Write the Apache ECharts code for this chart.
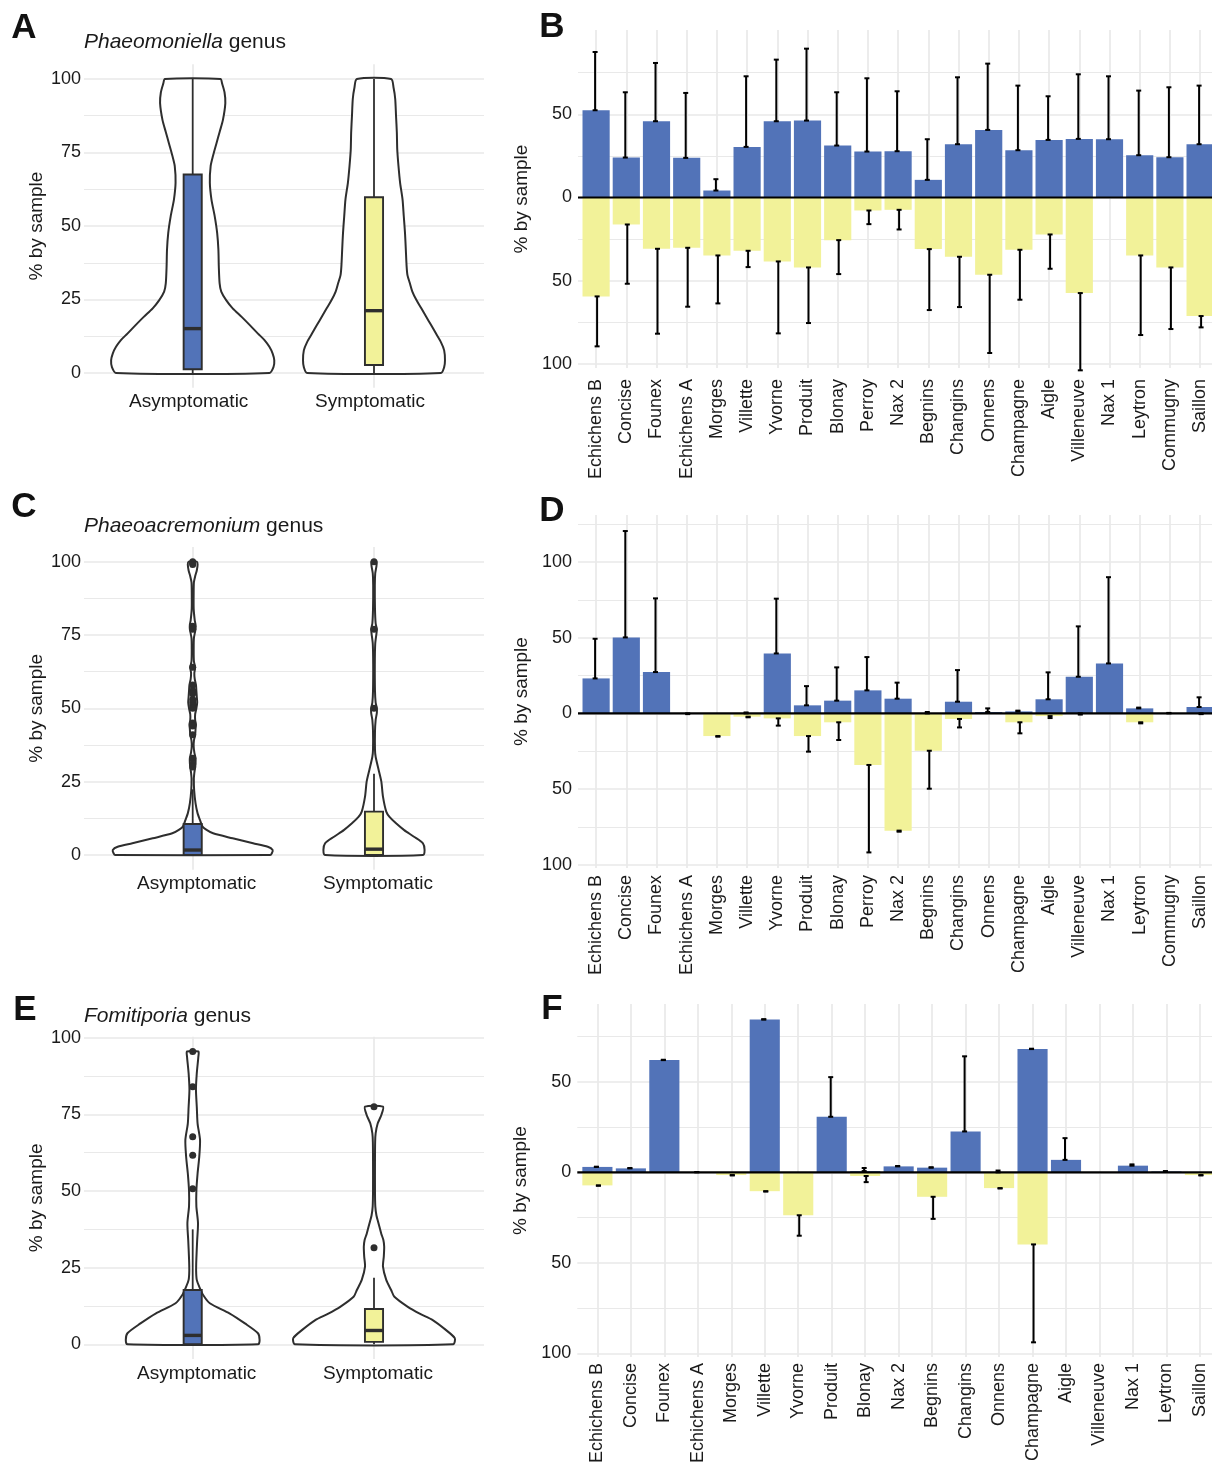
<!DOCTYPE html>
<html><head><meta charset="utf-8">
<script src="https://cdn.jsdelivr.net/npm/echarts@6/dist/echarts.min.js"></script>
<style>html,body{margin:0;padding:0;background:#fff}#c{width:1212px;height:1469px}</style>
</head><body><div id="c"></div><script>
// ---------------- DATA ----------------
const groups = ['Asymptomatic', 'Symptomatic'];
const sitesBD = ['Echichens B','Concise','Founex','Echichens A','Morges','Villette','Yvorne','Produit','Blonay','Perroy','Nax 2','Begnins','Changins','Onnens','Champagne','Aigle','Villeneuve','Nax 1','Leytron','Commugny','Saillon'];
const sitesF = ['Echichens B','Concise','Founex','Echichens A','Morges','Villette','Yvorne','Produit','Blonay','Nax 2','Begnins','Changins','Onnens','Champagne','Aigle','Villeneuve','Nax 1','Leytron','Saillon'];

const violinTicks = [0, 25, 50, 75, 100];
const violinMinor = [12.5, 37.5, 62.5, 87.5];
const barTicksB = [-100, -50, 0, 50];
const barMinorB = [-75, -25, 25, 75];
const barTicksD = [-100, -50, 0, 50, 100];
const barMinorD = [-75, -25, 25, 75, 125];
const barTicksF = [-100, -50, 0, 50];
const barMinorF = [-75, -25, 25, 75];

// Violin outlines: [value, relative half-width]
const violinA_asym = [[0,0.94],[2,0.99],[4.3,1.0],[6.6,0.98],[8.9,0.94],[11.2,0.88],[13.4,0.80],[16.3,0.70],[19.1,0.60],[22,0.49],[24.8,0.41],[27.7,0.35],[30.5,0.33],[36.2,0.32],[41.9,0.315],[47.6,0.30],[53.3,0.27],[59,0.23],[64.7,0.21],[70.4,0.22],[74,0.25],[78,0.29],[82,0.33],[86,0.37],[91.8,0.40],[95.5,0.39],[98.5,0.36],[100,0.34]];
const violinA_sym = [[0,0.82],[2,0.86],[4.3,0.87],[7.7,0.86],[10.5,0.82],[13.4,0.76],[16.3,0.70],[19.1,0.64],[22,0.58],[24.8,0.52],[27.7,0.47],[30.5,0.44],[33.3,0.41],[36.2,0.40],[42,0.39],[47.6,0.38],[53.3,0.365],[59,0.35],[64.7,0.32],[70.4,0.30],[76,0.285],[81.8,0.28],[87.5,0.27],[93.2,0.26],[97,0.24],[100,0.21]];
const violinC_asym = [[0,0.95],[0.6,0.97],[1.7,0.98],[2.8,0.92],[4.0,0.74],[5.7,0.49],[7.4,0.25],[8.6,0.17],[9.7,0.12],[11.9,0.09],[14.2,0.06],[17.6,0.035],[22,0.018],[26,0.014],[28,0.02],[30,0.03],[31.5,0.035],[33,0.035],[35,0.02],[37,0.012],[39,0.015],[41,0.03],[43,0.035],[44.5,0.04],[46,0.03],[48,0.03],[50,0.045],[52,0.055],[54,0.05],[56,0.045],[58,0.04],[60,0.025],[62,0.02],[64,0.03],[66,0.015],[70,0.012],[74,0.015],[77,0.035],[78.5,0.035],[80,0.025],[84,0.012],[90,0.012],[93,0.015],[95,0.03],[97,0.05],[99,0.06],[100,0.05]];
const violinC_sym = [[0,0.6],[1.7,0.62],[4,0.6],[6.25,0.49],[8.5,0.37],[10.8,0.27],[13,0.19],[14.8,0.15],[19.9,0.11],[25,0.09],[29,0.057],[33.5,0.02],[36,0.012],[42,0.012],[46,0.02],[48.5,0.035],[50,0.035],[52,0.02],[56,0.012],[65,0.01],[72,0.015],[75.5,0.03],[77,0.035],[79,0.02],[84,0.012],[92,0.01],[96,0.015],[98.5,0.03],[100,0.03]];
const violinE_asym = [[0,0.80],[1.4,0.82],[3.6,0.80],[6.8,0.64],[10.1,0.45],[13.4,0.21],[16,0.13],[18.5,0.085],[21,0.05],[24,0.042],[28,0.045],[34,0.055],[39.5,0.065],[45,0.045],[50,0.045],[55.8,0.06],[61,0.08],[66.6,0.09],[72,0.06],[77.5,0.05],[83,0.04],[88.4,0.05],[94,0.07],[95.5,0.07]];
const violinE_sym = [[0,0.97],[2,0.99],[4.7,0.88],[7.9,0.72],[10,0.56],[12.3,0.41],[15.5,0.25],[17.7,0.21],[21,0.15],[25.3,0.11],[28.6,0.12],[31.8,0.125],[34,0.115],[36,0.09],[38,0.07],[40,0.05],[42,0.03],[45,0.016],[50,0.012],[60,0.012],[66,0.014],[68.8,0.02],[72,0.045],[74.8,0.09],[77.5,0.11]];

// Boxplots: [lower whisker, Q1, median, Q3, upper whisker]
const boxA = [[0, 1.3, 15.1, 67.5, 100], [0, 2.7, 21.2, 59.8, 100]];
const boxC = [[0, 0, 1.7, 10.6, 22.4], [0, 0, 2.0, 14.8, 27.7]];
const boxE = [[0, 0, 2.9, 17.7, 37.5], [0, 0.8, 4.5, 11.5, 21.7]];

// Outliers
const outC_asym = [100, 99.5, 99, 78, 77, 64, 58, 56, 55, 53, 52, 51, 50, 45, 44, 41, 33, 31, 30];
const outC_sym = [100, 77, 50];
const outE_asym = [95.5, 84, 67.7, 61.7, 50.7];
const outE_sym = [77.5, 31.5];

// Bars: mean and sd per site (% by sample)
const phaeomAsymMean = [52.4,24.0,45.8,23.8,4.2,30.4,45.8,46.2,31.2,27.6,27.8,10.6,32.0,40.6,28.4,34.6,35.2,35.0,25.4,24.2,32.0];
const phaeomAsymSd   = [35.0,39.2,35.0,39.0,6.8,42.4,37.0,43.2,32.0,44.0,36.0,24.4,40.2,39.8,38.8,26.2,38.8,37.8,38.8,42.0,35.2];
const phaeomSymMean  = [59.4,16.2,30.8,30.2,34.8,32.0,38.4,42.0,25.6,7.8,7.4,31.0,35.6,46.4,31.4,22.2,57.4,0,34.8,42.0,71.2];
const phaeomSymSd    = [30.0,35.6,51.0,35.4,28.8,9.8,43.2,33.4,20.4,8.2,11.8,36.6,30.2,47.0,30.0,20.6,46.4,0,47.8,37.0,6.8];

const phaeoaAsymMean = [23.1,50.2,27.3,0,0,0,39.6,5.3,8.4,15.2,9.7,0,7.7,0.9,1.3,9.3,24.2,33.0,3.3,0,4.2];
const phaeoaAsymSd   = [26.2,70.3,48.7,0,0,0.6,36.2,12.7,22.0,22.0,10.6,0.9,20.9,2.4,0.5,17.8,33.3,57.0,0.5,0.3,6.4];
const phaeoaSymMean  = [0,0,0,0,15.0,2.2,3.3,15.0,5.9,34.1,77.5,24.7,3.7,0,5.9,1.8,0,0,5.9,0,0];
const phaeoaSymSd    = [0,0,0,0.5,0.4,0.4,4.8,10.3,11.7,57.8,0.7,25.1,5.6,0,7.3,1.3,0.8,0,0.7,0,0.5];

const fomitAsymMean = [3.0,2.2,62.0,0,0,84.4,0,30.7,0.7,3.3,2.6,22.6,0,68.1,6.9,0,3.7,0.5,0];
const fomitAsymSd   = [0.1,0.2,0.2,0.2,0,0.2,0,21.9,1.7,0.2,0.2,41.5,1.0,0.2,12.0,0,0.7,0.2,0];
const fomitSymMean  = [7.2,0,0,0,1.5,10.4,23.7,0,2.0,0,13.5,0,8.7,39.8,0,0,0,0,1.5];
const fomitSymSd    = [0.2,0,0,0,0.2,0.2,11.3,0,3.4,0,12.2,0,0.2,54.1,0,0,0,0,0.2];

// ---------------- CHART ----------------
const FONT = '"Liberation Sans", Arial, Helvetica, sans-serif';
const TXT = '#1a1a1a';
const GRIDC = '#e9e9e9';
const BLUE = '#5273b8';
const YELLOW = '#f2f299';
const DARK = '#2e2e2e';

const grids = [], xAxes = [], yAxes = [], series = [], graphics = [];

function addPanel(c) {
  const g = grids.length;
  grids.push({left: c.left, top: c.top, width: c.width, height: c.height, outerBoundsMode: 'none', containLabel: false});
  grids.push({left: c.innerLeft, top: c.top, width: c.innerWidth, height: c.height, outerBoundsMode: 'none', containLabel: false});
  const xo = xAxes.length;
  xAxes.push({gridIndex: g, type: 'value', min: 0, max: 1, show: false});
  xAxes.push({
    gridIndex: g + 1, type: 'category', data: c.cats, boundaryGap: false,
    axisLine: {show: false}, axisTick: {show: false},
    splitLine: {show: true, interval: 0, lineStyle: {color: GRIDC, width: 1.7}},
    axisLabel: Object.assign({interval: 0, color: TXT, fontSize: c.xFont, fontFamily: FONT,
      margin: c.xMargin, rotate: c.rotate || 0}, c.xLabelExtra || {})
  });
  const yo = yAxes.length;
  yAxes.push({
    gridIndex: g, type: 'value', position: 'left', min: c.ymin, max: c.ymax,
    axisLine: {show: false}, axisTick: {show: false, customValues: c.majors},
    axisLabel: {customValues: c.majors, color: TXT, fontSize: 18, fontFamily: FONT, margin: c.yMargin,
      formatter: v => String(Math.abs(v))},
    splitLine: {show: true, lineStyle: {color: GRIDC, width: 1.7}},
    name: '% by sample', nameLocation: 'middle', nameRotate: 90, nameGap: c.nameGap,
    nameTextStyle: {color: TXT, fontSize: 19, fontFamily: FONT}
  });
  yAxes.push({
    gridIndex: g, type: 'value', position: 'left', min: c.ymin, max: c.ymax,
    axisLine: {show: false}, axisTick: {show: false, customValues: c.minors},
    axisLabel: {show: false},
    splitLine: {show: true, lineStyle: {color: GRIDC, width: 1.1}}
  });
  yAxes.push({gridIndex: g + 1, type: 'value', min: c.ymin, max: c.ymax, show: false});
  return {xo: xo, xi: xo + 1, yo: yo, yi: yo + 2};
}

function violinRender(outlines) {
  return function (params, api) {
    const cat = api.value(0);
    const outline = outlines[params.dataIndex];
    const band = api.size([1, 0])[0];
    const hwMax = 0.45 * band;
    const right = outline.map(p => { const c = api.coord([cat, p[0]]); return [c[0] + p[1] * hwMax, c[1]]; });
    const left = outline.slice().reverse().map(p => { const c = api.coord([cat, p[0]]); return [c[0] - p[1] * hwMax, c[1]]; });
    return {type: 'polygon', shape: {points: right.concat(left), smooth: 0.25},
      style: {fill: '#ffffff', stroke: DARK, lineWidth: 2}};
  };
}

function boxRender(params, api) {
  const cat = api.value(0);
  const lo = api.value(1), q1 = api.value(2), med = api.value(3), q3 = api.value(4), hi = api.value(5);
  const band = api.size([1, 0])[0];
  const hw = 0.05 * band;
  const pLo = api.coord([cat, lo]), pQ1 = api.coord([cat, q1]), pMed = api.coord([cat, med]),
        pQ3 = api.coord([cat, q3]), pHi = api.coord([cat, hi]);
  const x = pLo[0];
  const fill = params.dataIndex === 0 ? BLUE : YELLOW;
  return {type: 'group', children: [
    {type: 'line', shape: {x1: x, y1: pQ3[1], x2: x, y2: pHi[1]}, style: {stroke: DARK, lineWidth: 1.8}},
    {type: 'line', shape: {x1: x, y1: pLo[1], x2: x, y2: pQ1[1]}, style: {stroke: DARK, lineWidth: 1.8}},
    {type: 'rect', shape: {x: x - hw, y: pQ3[1], width: 2 * hw, height: Math.max(pQ1[1] - pQ3[1], 0.5)},
      style: {fill: fill, stroke: DARK, lineWidth: 1.9}},
    {type: 'line', shape: {x1: x - hw, y1: pMed[1], x2: x + hw, y2: pMed[1]}, style: {stroke: DARK, lineWidth: 3.4}}
  ]};
}

function errRender(sign, dx) {
  return function (params, api) {
    const cat = api.value(0), m = api.value(1), sd = api.value(2);
    if (!(sd > 0)) return null;
    const a = api.coord([cat, sign * m]), b = api.coord([cat, sign * (m + sd)]);
    const x = a[0] + dx, h = 2.5;
    const st = {stroke: '#000', lineWidth: 2};
    return {type: 'group', children: [
      {type: 'line', shape: {x1: x, y1: a[1], x2: x, y2: b[1]}, style: st},
      {type: 'line', shape: {x1: x - h, y1: a[1], x2: x + h, y2: a[1]}, style: st},
      {type: 'line', shape: {x1: x - h, y1: b[1], x2: x + h, y2: b[1]}, style: st}
    ]};
  };
}

function addViolins(ax, outlines, boxes, outAsym, outSym) {
  series.push({type: 'custom', xAxisIndex: ax.xi, yAxisIndex: ax.yi, z: 2, silent: true, clip: false,
    data: outlines.map((o, i) => [i, 0]), renderItem: violinRender(outlines)});
  series.push({type: 'custom', xAxisIndex: ax.xi, yAxisIndex: ax.yi, z: 3, silent: true, clip: false,
    data: boxes.map((b, i) => [i].concat(b)), renderItem: boxRender});
  const pts = outAsym.map(v => [0, v]).concat(outSym.map(v => [1, v]));
  if (pts.length) {
    series.push({type: 'scatter', xAxisIndex: ax.xi, yAxisIndex: ax.yi, z: 4, silent: true,
      data: pts, symbolSize: 7, itemStyle: {color: DARK, opacity: 1}});
  }
}

function addBars(ax, am, asd, sm, ssd) {
  series.push({type: 'bar', xAxisIndex: ax.xi, yAxisIndex: ax.yi, data: am, barWidth: '90%', barGap: '-100%',
    itemStyle: {color: BLUE}, z: 2, clip: false, silent: true});
  series.push({type: 'bar', xAxisIndex: ax.xi, yAxisIndex: ax.yi, data: sm.map(v => -v), barWidth: '90%', barGap: '-100%',
    itemStyle: {color: YELLOW}, z: 2, clip: false, silent: true});
  series.push({type: 'line', xAxisIndex: ax.xo, yAxisIndex: ax.yo, data: [[0, 0], [1, 0]], symbol: 'none',
    lineStyle: {color: '#000', width: 2.2}, z: 3, silent: true});
  series.push({type: 'custom', xAxisIndex: ax.xi, yAxisIndex: ax.yi, z: 4, silent: true, clip: false,
    data: am.map((m, i) => [i, m, asd[i]]), renderItem: errRender(1, -1)});
  series.push({type: 'custom', xAxisIndex: ax.xi, yAxisIndex: ax.yi, z: 4, silent: true, clip: false,
    data: sm.map((m, i) => [i, m, ssd[i]]), renderItem: errRender(-1, 1)});
}

// Left panels (violins)
const leftCommon = {left: 84, width: 400, innerLeft: 192.7, innerWidth: 181.3, cats: groups,
  majors: violinTicks, minors: violinMinor, xFont: 19, xMargin: 5, yMargin: 3, nameGap: 38};
const axA = addPanel(Object.assign({}, leftCommon, {top: 64.3, height: 323.4, ymin: -5, ymax: 105,
  xLabelExtra: {padding: [0, 8, 0, 0]}}));
addViolins(axA, [violinA_asym, violinA_sym], boxA, [], []);
const axC = addPanel(Object.assign({}, leftCommon, {top: 547, height: 322.7, ymin: -5, ymax: 105,
  xLabelExtra: {padding: [0, 0, 0, 8]}}));
addViolins(axC, [violinC_asym, violinC_sym], boxC, outC_asym, outC_sym);
const axE = addPanel(Object.assign({}, leftCommon, {top: 1036.8, height: 322.2, ymin: -4.8, ymax: 100.3,
  xLabelExtra: {padding: [0, 0, 0, 8]}}));
addViolins(axE, [violinE_asym, violinE_sym], boxE, outE_asym, outE_sym);

// Right panels (bars)
const axB = addPanel({left: 578, width: 640.2, innerLeft: 596.1, innerWidth: 604, top: 30, height: 338,
  ymin: -102.4, ymax: 100.6, majors: barTicksB, minors: barMinorB, cats: sitesBD,
  xFont: 18, xMargin: 11, rotate: 90, yMargin: 6, nameGap: 47});
addBars(axB, phaeomAsymMean, phaeomAsymSd, phaeomSymMean, phaeomSymSd);
const axD = addPanel({left: 578, width: 640.2, innerLeft: 596.1, innerWidth: 604, top: 515, height: 353,
  ymin: -102.2, ymax: 131.1, majors: barTicksD, minors: barMinorD, cats: sitesBD,
  xFont: 18, xMargin: 7, rotate: 90, yMargin: 6, nameGap: 47});
addBars(axD, phaeoaAsymMean, phaeoaAsymSd, phaeoaSymMean, phaeoaSymSd);
const axF = addPanel({left: 577.3, width: 642.6, innerLeft: 597.4, innerWidth: 602.5, top: 1004, height: 353,
  ymin: -102, ymax: 93, majors: barTicksF, minors: barMinorF, cats: sitesF,
  xFont: 18, xMargin: 6, rotate: 90, yMargin: 6, nameGap: 47});
addBars(axF, fomitAsymMean, fomitAsymSd, fomitSymMean, fomitSymSd);

// Panel letters and titles
function letter(t, x, y) {
  graphics.push({type: 'text', x: x, y: y, silent: true,
    style: {text: t, fontSize: 35, fontWeight: 'bold', fontFamily: FONT, fill: '#111', align: 'center', verticalAlign: 'middle'}});
}
function title(genus, x, y) {
  graphics.push({type: 'text', x: x, y: y, silent: true,
    style: {text: '{i|' + genus + '} genus', fontSize: 21, fontFamily: FONT, fill: TXT, align: 'left', verticalAlign: 'middle',
      rich: {i: {fontStyle: 'italic', fontSize: 21, fontFamily: FONT, fill: TXT}}}});
}
letter('A', 24, 28); letter('B', 552, 27);
letter('C', 24, 507); letter('D', 552, 511);
letter('E', 25, 1010); letter('F', 552, 1009);
title('Phaeomoniella', 84, 42.5);
title('Phaeoacremonium', 84, 526);
title('Fomitiporia', 84, 1016);

const chart = echarts.init(document.getElementById('c'), null, {renderer: 'canvas', width: 1212, height: 1469});
chart.setOption({
  animation: false,
  backgroundColor: '#ffffff',
  textStyle: {fontFamily: FONT},
  grid: grids, xAxis: xAxes, yAxis: yAxes, series: series,
  graphic: {elements: graphics}
});
</script></body></html>
